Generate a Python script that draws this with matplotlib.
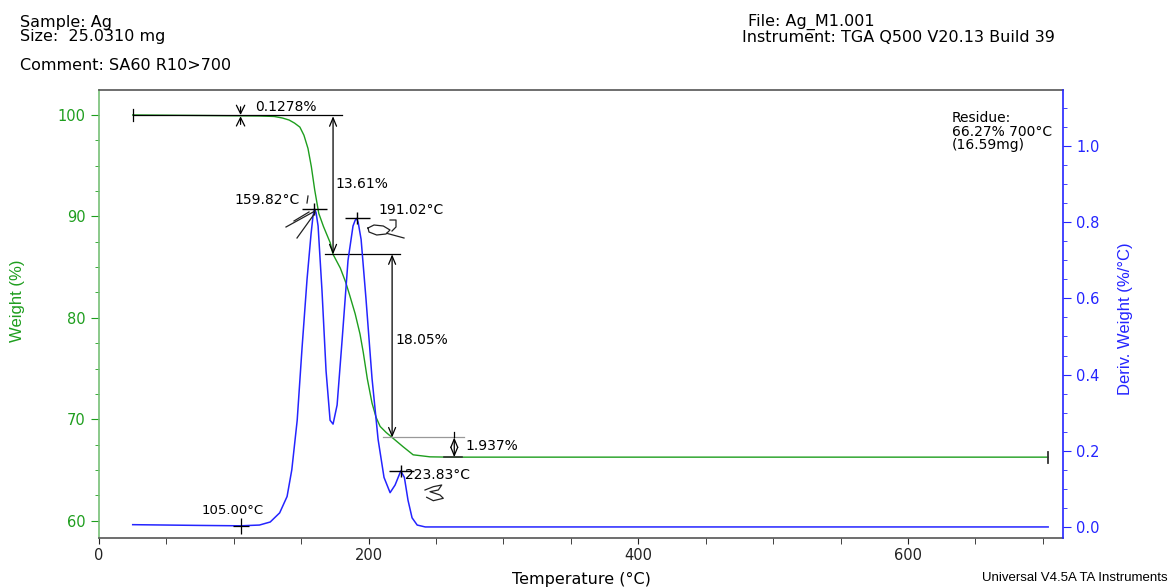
import matplotlib.pyplot as plt
from matplotlib.ticker import MultipleLocator
from matplotlib.lines import Line2D

# weight curve (%)
temp_w = [25, 75, 119, 130, 136, 141, 145, 149, 152, 155, 157.5, 160, 163, 166.5, 171.5, 173.6, 179,
          183, 186, 190, 193.6, 196, 199, 202.5, 205.5, 208.5, 213, 217.4, 225.5, 233, 245.5, 260,
          400, 550, 704]
weight = [100.0, 99.95, 99.9, 99.85, 99.7, 99.5, 99.2, 98.8, 98.0, 96.7, 94.9, 92.6, 90.3, 89.0, 87.4,
          86.26, 84.9, 83.5, 82.2, 80.4, 78.4, 76.6, 74.0, 71.6, 70.2, 69.3, 68.7, 68.21, 67.3, 66.5,
          66.3, 66.27, 66.27, 66.27, 66.27]

# derivative curve (%/°C)
temp_d = [25, 75, 105, 119, 127, 134, 139.5, 143, 147, 150.6, 154.3, 157.3, 158.7, 159.82, 161,
          162.5, 165.4, 168.4, 171.4, 173.6, 176.6, 180.3, 184.7, 188.4, 190, 191.02, 192.2, 194.4,
          198, 202.5, 207, 211.4, 215.9, 219.6, 223.83, 226.5, 229.2, 232.2, 236, 242, 400, 704]
deriv = [0.006, 0.004, 0.003, 0.005, 0.013, 0.037, 0.08, 0.15, 0.28, 0.47, 0.65, 0.77, 0.815, 0.835, 0.825,
         0.79, 0.62, 0.41, 0.28, 0.27, 0.32, 0.49, 0.70, 0.79, 0.805, 0.81, 0.80, 0.755,
         0.60, 0.39, 0.23, 0.13, 0.09, 0.11, 0.147, 0.13, 0.07, 0.024, 0.005, 0.0, 0.0, 0.0]

# step analysis (weight %)
step_temps = [105.0, 173.6, 217.4, 263.5]
step_levels = [100.0, 99.87, 86.26, 68.21, 66.27]
step_labels = ['0.1278%', '13.61%', '18.05%', '1.937%']
peak_temps = [159.82, 191.02, 223.83]
peak_vals = [0.835, 0.81, 0.147]

GREEN = '#1e9e1e'
BLUE = '#2424ff'
GRAY = '#555555'

fig = plt.figure(figsize=(11.7, 5.87), dpi=100)
ax = fig.add_axes([99 / 1170, 49 / 587, 964 / 1170, 448 / 587])
ax2 = ax.twinx()

ax.plot(temp_w, weight, color=GREEN, lw=1.0)
ax2.plot(temp_d, deriv, color=BLUE, lw=1.1)

ax.set_xlim(0, 715)
ax.set_ylim(58.3, 102.46)
ax2.set_ylim(-0.029, 1.147)

ax.xaxis.set_major_locator(MultipleLocator(200))
ax.xaxis.set_minor_locator(MultipleLocator(50))
ax.yaxis.set_major_locator(MultipleLocator(10))
ax.yaxis.set_minor_locator(MultipleLocator(2.5))
ax2.yaxis.set_major_locator(MultipleLocator(0.2))
ax2.yaxis.set_minor_locator(MultipleLocator(0.05))
ax2.yaxis.set_major_formatter(plt.FormatStrFormatter('%.1f'))

ax.tick_params(axis='x', which='both', direction='out', length=4, colors='#222222',
               labelsize=10.5, pad=3)
ax.tick_params(axis='y', which='major', direction='out', length=6, color=GREEN,
               labelcolor=GREEN, labelsize=10.5)
ax.tick_params(axis='y', which='minor', direction='out', length=3, color=GREEN)
ax2.tick_params(axis='y', which='major', direction='out', length=6, color=BLUE,
                labelcolor=BLUE, labelsize=10.5)
ax2.tick_params(axis='y', which='minor', direction='out', length=3, color=BLUE)

ax.spines['left'].set_color('#77c077')
ax.spines['right'].set_visible(False)
ax.spines['top'].set_color(GRAY)
ax.spines['bottom'].set_color(GRAY)
ax2.spines['left'].set_visible(False)
ax2.spines['top'].set_visible(False)
ax2.spines['bottom'].set_visible(False)
ax2.spines['right'].set_color(BLUE)
for s in ax.spines.values():
    s.set_linewidth(1.2)
ax2.spines['right'].set_linewidth(1.2)

ax.set_xlabel('Temperature (°C)', fontsize=11.5, family='DejaVu Sans')
ax.xaxis.set_label_coords(0.5, -0.075)
ax.xaxis.label.set_verticalalignment('top')
ax.set_ylabel('Weight (%)', fontsize=12, color=GREEN, family='Liberation Sans')
ax.yaxis.set_label_coords(-0.077, 0.53)
ax2.set_ylabel('Deriv. Weight (%/°C)', fontsize=12, color=BLUE, family='Liberation Sans')
ax2.yaxis.set_label_coords(1.057, 0.49)

arrow = dict(arrowstyle='<->,head_length=0.6,head_width=0.25', color='k', lw=0.9,
             shrinkA=0, shrinkB=0)
one_way = dict(arrowstyle='->,head_length=0.6,head_width=0.3', color='k', lw=0.9,
               shrinkA=0, shrinkB=0)
afs = 10

# step 1: 0.1278 %
ax.plot([25, 180], [step_levels[0], step_levels[0]], color='k', lw=0.9)
ax.plot([25, 25], [step_levels[0] - 0.6, step_levels[0] + 0.6], color='k', lw=0.9)
ax.annotate('', xy=(step_temps[0], step_levels[0]), xytext=(step_temps[0], step_levels[0] + 0.8),
            arrowprops=one_way)
ax.annotate('', xy=(step_temps[0], step_levels[1]), xytext=(step_temps[0], step_levels[1] - 0.8),
            arrowprops=one_way)
ax.text(115.5, 100.75, step_labels[0], fontsize=afs, va='center', ha='left')

# step 2: 13.61 %
ax.annotate('', xy=(step_temps[1], step_levels[1]), xytext=(step_temps[1], step_levels[2]),
            arrowprops=arrow)
ax.plot([167.7, 223.3], [step_levels[2], step_levels[2]], color='k', lw=0.9)
ax.text(175.3, 93.2, step_labels[1], fontsize=afs, va='center', ha='left')

# step 3: 18.05 %
ax.annotate('', xy=(step_temps[2], step_levels[2]), xytext=(step_temps[2], step_levels[3]),
            arrowprops=arrow)
ax.plot([210.7, 270.5], [step_levels[3], step_levels[3]], color='#999999', lw=0.9)
ax.text(219.8, 77.8, step_labels[2], fontsize=afs, va='center', ha='left')

# step 4: 1.937 %
ax.annotate('', xy=(step_temps[3], step_levels[3]), xytext=(step_temps[3], step_levels[4]),
            arrowprops=arrow)
ax.plot([step_temps[3], step_temps[3]], [step_levels[3], step_levels[3] + 0.5], color='k', lw=0.9)
ax.plot([256, 269], [step_levels[4], step_levels[4]], color='#333333', lw=1.2)
ax.text(271.5, 67.35, step_labels[3], fontsize=afs, va='center', ha='left')

# end of curve
ax.plot([704, 704], [step_levels[4] - 0.55, step_levels[4] + 0.55], color='#333333', lw=1.3)

# peak markers
for t, v in zip(peak_temps, peak_vals):
    ax2.plot([t], [v], marker='_', ms=18, mew=1.0, color='k')
    ax2.plot([t], [v], marker='|', ms=9, mew=1.0, color='k')
ax2.plot([105], [0.003], marker='+', ms=11, mew=0.9, color='k')

ax.text(149.0, 91.6, '159.82°C', fontsize=afs, va='center', ha='right')
ax.text(207.0, 90.6, '191.02°C', fontsize=afs, va='center', ha='left')
ax.text(227.0, 64.5, '223.83°C', fontsize=afs, va='center', ha='left')
ax.text(99.4, 61.0, '105.00°C', fontsize=afs - 0.5, va='center', ha='center')

ax.text(632.5, 100.35, 'Residue:\n66.27% 700°C\n(16.59mg)', fontsize=10, va='top', ha='left',
        linespacing=0.95)

# header and footer
hfs = 11.5
fig.text(20 / 1170, 1 - 22 / 587, 'Sample: Ag', fontsize=hfs, va='center')
fig.text(20 / 1170, 1 - 37 / 587, 'Size:  25.0310 mg', fontsize=hfs, va='center')
fig.text(20 / 1170, 1 - 66 / 587, 'Comment: SA60 R10>700', fontsize=hfs, va='center')
fig.text(748 / 1170, 1 - 22 / 587, 'File: Ag_M1.001', fontsize=hfs, va='center')
fig.text(742 / 1170, 1 - 37 / 587, 'Instrument: TGA Q500 V20.13 Build 39', fontsize=hfs, va='center')
fig.text(1168 / 1170, 1 - 578 / 587, 'Universal V4.5A TA Instruments', fontsize=9.5,
         family='Liberation Sans', va='center', ha='right')

# hand-written marks (figure pixel positions)
scribbles = [
    [(286, 227), (315, 211)],
    [(297, 238), (315, 213)],
    [(294, 221), (309, 212)],
    [(308, 196), (307, 203)],
    [(368, 228), (374, 225), (383.3, 226), (390, 230), (386, 234), (376.7, 235),
     (369, 232), (368, 228)],
    [(390, 220), (396, 220), (396, 227), (392, 231)],
    [(386.7, 233.3), (404, 238)],
    [(425, 490), (433.3, 486.7), (441.7, 485), (438.3, 490), (430, 491.7), (440, 495),
     (443.3, 498.3), (433.3, 500.7), (426.7, 497.3)],
]
for pts in scribbles:
    xs = [p[0] / 1170 for p in pts]
    ys = [1 - p[1] / 587 for p in pts]
    fig.add_artist(Line2D(xs, ys, transform=fig.transFigure, color='#222222', lw=0.9))

fig.savefig('out.png', dpi=100)
